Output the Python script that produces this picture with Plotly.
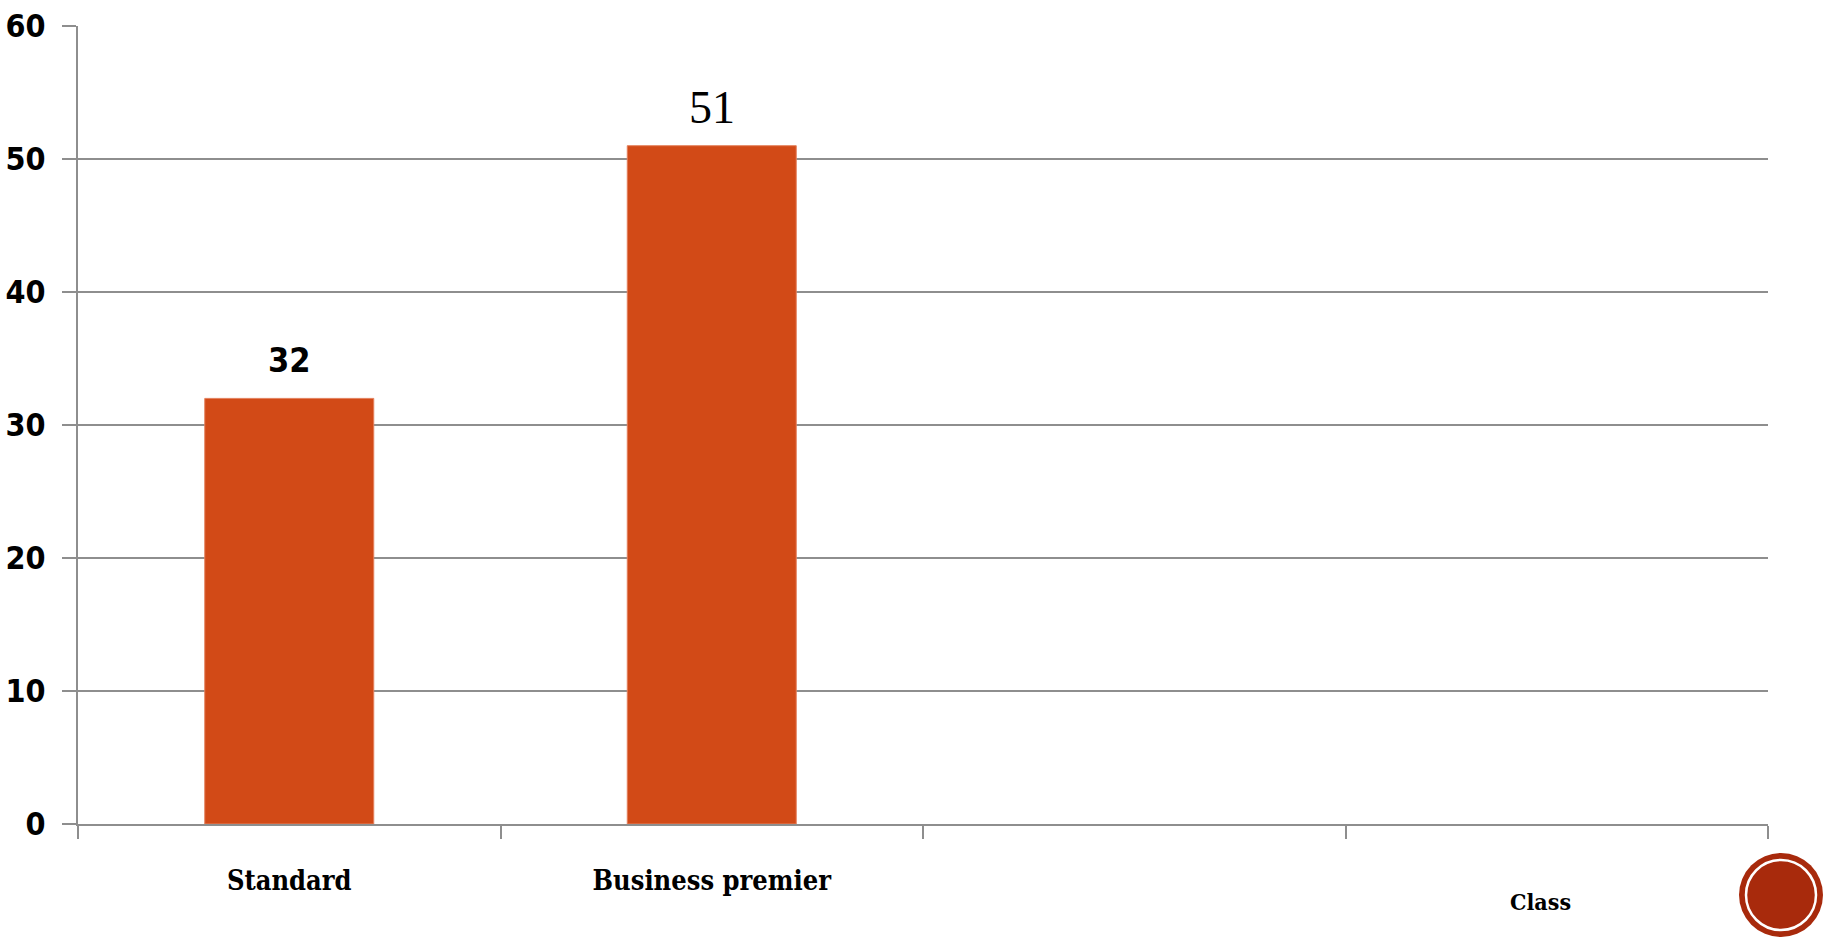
import plotly.graph_objects as go

categories = ["Standard", "Business premier", " ", "  "]
values = [32, 51, None, None]
value_labels = ["32", "51", "", ""]
label_serif = [False, True, True, True]
y_ticks = [0, 10, 20, 30, 40, 50, 60]
axis_title = "Class"

BAR = "#D24A17"
GRID = "#8E8E8E"
COND = "DejaVu Sans Condensed, sans-serif"
SLAB = "DejaVu Serif Condensed, DejaVu Sans Condensed, serif"
SERIF = "Liberation Serif, serif"

W, H = 1825, 938
ML, MR, MT, MB = 78, 57, 26, 114
PW, PH = W - ML - MR, H - MT - MB

fig = go.Figure()
fig.add_trace(go.Bar(
    x=categories, y=values, width=0.4,
    marker=dict(color=BAR, line=dict(color="#E4805C", width=1)),
    hoverinfo="skip",
))

for c, v, t, serif in zip(categories, values, value_labels, label_serif):
    if v is None:
        continue
    fig.add_annotation(
        x=c, y=v, text=t, showarrow=False, yanchor="bottom",
        yshift=11 if serif else 16,
        font=dict(family=SERIF if serif else COND, size=46 if serif else 34,
                  color="#000", weight="normal" if serif else "bold"),
    )

fig.add_annotation(
    xref="paper", yref="paper",
    x=(1540 - ML) / PW, y=(H - 901 - MB) / PH,
    xanchor="center", yanchor="middle",
    text=axis_title, showarrow=False,
    font=dict(family=SLAB, size=23, color="#000", weight="bold"),
)

fig.update_layout(
    width=W, height=H,
    margin=dict(l=ML, r=MR, t=MT, b=MB, autoexpand=False),
    paper_bgcolor="white", plot_bgcolor="white",
    showlegend=False,
)
fig.update_xaxes(
    type="category", categoryorder="array", categoryarray=categories,
    range=[-0.5, 3.5], automargin=False,
    tickson="boundaries", ticks="outside", ticklen=13, tickwidth=2, tickcolor=GRID,
    showline=True, linecolor=GRID, linewidth=2,
    showgrid=False, zeroline=False,
    tickfont=dict(family=SLAB, size=27, color="#000", weight="bold"),
    ticklabelstandoff=32,
)
fig.update_yaxes(
    range=[0, 60], tickvals=y_ticks, automargin=False,
    ticks="outside", ticklen=14, tickwidth=2, tickcolor=GRID,
    showline=True, linecolor=GRID, linewidth=2,
    showgrid=True, gridcolor=GRID, gridwidth=2,
    zeroline=False,
    tickfont=dict(family=COND, size=32, color="#000", weight="bold"),
    ticklabelstandoff=10,
)

# decorative circle badge (bottom-right corner), pixel positions mapped to paper coords
cx, cy = 1781, 895
for r, line in [(42, None), (35, "white")]:
    fig.add_shape(type="circle", xref="paper", yref="paper",
                  x0=(cx - r - ML) / PW, x1=(cx + r - ML) / PW,
                  y0=(H - (cy + r) - MB) / PH, y1=(H - (cy - r) - MB) / PH,
                  fillcolor="#A82A0C",
                  line=dict(color=line or "#A82A0C", width=2.5 if line else 0),
                  layer="above")

fig.write_html("out.html")
